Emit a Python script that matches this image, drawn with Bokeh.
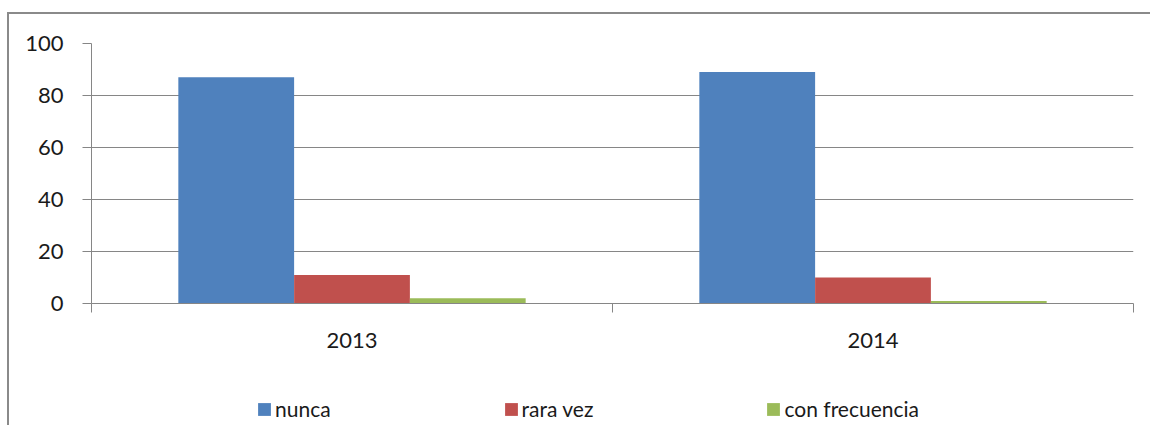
from bokeh.plotting import figure
from bokeh.layouts import column
from bokeh.models import (Range1d, LinearAxis, FixedTicker, Legend,
                          LegendItem, ColumnDataSource)
from bokeh.transform import dodge
from bokeh.embed import file_html
from bokeh.resources import INLINE

years = ["2013", "2014"]
series = ["nunca", "rara vez", "con frecuencia"]
nunca = [87, 89]
rara_vez = [11, 10]
con_frecuencia = [2, 1]
colors = ["#4F81BD", "#C0504D", "#9BBB59"]
y_ticks = [0, 20, 40, 60, 80, 100]

FONT = "Lato"
GREY = "#868686"
TXT = "#1a1a1a"
FS = "22px"

centers = [i + 0.5 for i in range(len(years))]
src = ColumnDataSource(dict(x=centers, year=years, s0=nunca, s1=rara_vez, s2=con_frecuencia))

W = 1141
p = figure(width=W, height=345,
           x_range=Range1d(0, len(years)),
           y_range=Range1d(0, 100),
           output_backend="svg", toolbar_location=None,
           x_axis_location=None,
           min_border_left=82, min_border_right=17,
           min_border_top=29, min_border_bottom=56)
p.outline_line_color = None
p.background_fill_color = "white"
p.border_fill_color = "white"

bw = 2 / 9
offsets = [-bw, 0, bw]
for i, (col, c) in enumerate(zip(["s0", "s1", "s2"], colors)):
    p.vbar(x=dodge("x", offsets[i]), top=col, width=bw,
           source=src, fill_color=c, line_color=None)

# y axis
ya = p.yaxis[0]
ya.ticker = FixedTicker(ticks=y_ticks)
ya.axis_line_color = GREY
ya.major_tick_line_color = GREY
ya.major_tick_out = 9
ya.major_tick_in = 0
ya.minor_tick_line_color = None
ya.major_label_text_font = FONT
ya.major_label_text_font_size = FS
ya.major_label_text_color = TXT
ya.major_label_standoff = 19

p.ygrid.grid_line_color = GREY
p.ygrid.ticker = FixedTicker(ticks=y_ticks)
p.xgrid.grid_line_color = None

# x axis: labels at category centres, ticks at category boundaries
xa = LinearAxis(ticker=FixedTicker(ticks=centers,
                                   minor_ticks=list(range(len(years) + 1))),
                major_label_overrides={c: y for c, y in zip(centers, years)})
xa.axis_line_color = GREY
xa.major_tick_out = 0
xa.major_tick_in = 0
xa.major_tick_line_color = None
xa.minor_tick_out = 9
xa.minor_tick_in = 0
xa.minor_tick_line_color = GREY
xa.major_label_text_font = FONT
xa.major_label_text_font_size = FS
xa.major_label_text_color = TXT
xa.major_label_standoff = 20
p.add_layout(xa, "below")

# legend strip (swatch renderers sit outside the strip's visible range)
p2 = figure(width=W, height=66, x_range=Range1d(0, 1), y_range=Range1d(0, 1),
            output_backend="svg", toolbar_location=None,
            min_border_left=0, min_border_right=0, min_border_top=0, min_border_bottom=0)
p2.axis.visible = False
p2.grid.grid_line_color = None
p2.outline_line_color = None
swatch = ColumnDataSource(dict(x=[-5.0], top=[0.0]))
leg_r = [p2.vbar(x="x", top="top", width=0.1, source=swatch, fill_color=c, line_color=None)
         for c in colors]
legend = Legend(items=[LegendItem(label=s, renderers=[r]) for s, r in zip(series, leg_r)],
                orientation="horizontal", location=(165, 4))
legend.label_text_font = FONT
legend.label_text_font_size = "21px"
legend.label_text_color = TXT
legend.glyph_width = 16
legend.glyph_height = 16
legend.label_standoff = 3
legend.spacing = 172
legend.margin = 0
legend.padding = 0
legend.border_line_color = None
legend.background_fill_alpha = 0
p2.add_layout(legend, "center")

layout = column(p, p2, spacing=0)
layout.styles = {"border-left": "2px solid #8a8a8a", "border-top": "2px solid #8a8a8a",
                 "margin-left": "7px", "margin-top": "12px"}

open("out.html", "w").write(file_html(layout, INLINE))
